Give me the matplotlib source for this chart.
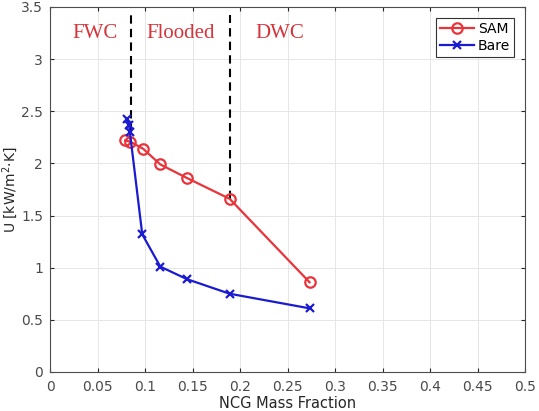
import matplotlib.pyplot as plt
from matplotlib import rcParams

rcParams['font.family'] = 'DejaVu Sans'

# data
sam_x = [0.079, 0.084, 0.098, 0.116, 0.144, 0.189, 0.273]
sam_u = [2.22, 2.21, 2.14, 1.99, 1.86, 1.66, 0.86]
bare_x = [0.081, 0.083, 0.084, 0.097, 0.116, 0.144, 0.189, 0.273]
bare_u = [2.43, 2.37, 2.30, 1.32, 1.01, 0.89, 0.75, 0.61]

regimes = ['FWC', 'Flooded', 'DWC']
regime_x = [0.047, 0.137, 0.242]
bounds_x = [0.085, 0.189]
bounds_ybot = [2.30, 1.66]

xticks = [0, 0.05, 0.1, 0.15, 0.2, 0.25, 0.3, 0.35, 0.4, 0.45, 0.5]
xticklabels = ['0', '0.05', '0.1', '0.15', '0.2', '0.25', '0.3', '0.35', '0.4', '0.45', '0.5']
yticks = [0, 0.5, 1, 1.5, 2, 2.5, 3, 3.5]
yticklabels = ['0', '0.5', '1', '1.5', '2', '2.5', '3', '3.5']

grey = '#262626'
fig = plt.figure(figsize=(5.39, 4.11), dpi=100)
ax = fig.add_axes([0.0928, 0.095, 0.882, 0.888])

for bx, yb in zip(bounds_x, bounds_ybot):
    ax.plot([bx, bx], [yb, 3.42], color='black', linestyle=(0, (4, 2.5)),
            linewidth=1.5, zorder=2)

ax.plot(sam_x, sam_u, '-o', color='#e8343a', linewidth=1.6, markersize=7.5,
        markerfacecolor='none', markeredgewidth=1.6, label='SAM', zorder=3)
ax.plot(bare_x, bare_u, '-x', color='#1a1ad0', linewidth=1.6, markersize=6,
        markeredgewidth=1.6, label='Bare', zorder=4)

for name, rx in zip(regimes, regime_x):
    ax.text(rx, 3.25, name, color='#d6333a', fontsize=15, family='Liberation Serif',
            ha='center', va='center')

ax.set_xlim(0, 0.5)
ax.set_ylim(0, 3.5)
ax.set_xticks(xticks)
ax.set_xticklabels(xticklabels)
ax.set_yticks(yticks)
ax.set_yticklabels(yticklabels)
ax.tick_params(direction='in', length=3, labelsize=10, colors=grey, top=True, right=True)
ax.tick_params(axis='x', pad=6)
ax.tick_params(axis='y', pad=5)
ax.tick_params(labelcolor='#4a4a4a')
ax.grid(True, color='#e6e6e6', linewidth=0.7)
ax.set_axisbelow(True)
for s in ax.spines.values():
    s.set_color('#4d4d4d')
    s.set_linewidth(0.8)

ax.set_xlabel('NCG Mass Fraction', fontsize=10.5, color=grey, labelpad=1)
ax.set_ylabel('U [kW/m$^2$$\\cdot$K]', fontsize=10, color=grey, labelpad=1)

leg = ax.legend(loc='upper right', fontsize=10, fancybox=False, framealpha=1,
                edgecolor='#333333', handlelength=2.4, borderpad=0.3,
                labelspacing=0.2, handletextpad=0.3, borderaxespad=0.8)
leg.get_frame().set_linewidth(0.8)

fig.savefig('out.png', dpi=100)
